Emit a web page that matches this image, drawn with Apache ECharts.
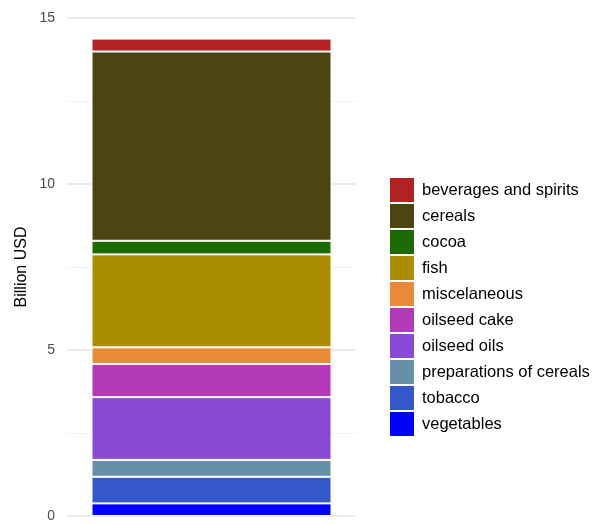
<!DOCTYPE html>
<html><head><meta charset="utf-8">
<script src="https://cdn.jsdelivr.net/npm/echarts@6/dist/echarts.min.js"></script>
<style>html,body{margin:0;padding:0;background:#fff}#c{width:597px;height:524px}</style>
</head><body><div id="c"></div>
<script>
// Legend order (top to bottom)
const categories = ["beverages and spirits","cereals","cocoa","fish","miscelaneous","oilseed cake","oilseed oils","preparations of cereals","tobacco","vegetables"];
const values = [0.39, 5.70, 0.41, 2.80, 0.50, 1.00, 1.89, 0.51, 0.80, 0.38];
const colors = ["#B22222","#4D4511","#1B6B00","#AA8E00","#E88A37","#B23AB8","#8849D4","#668FA8","#3458C8","#0000FF"];
const xCats = [""];

const chart = echarts.init(document.getElementById('c'));
const series = [];
for (let i = categories.length - 1; i >= 0; i--) {
  series.push({
    name: categories[i], type: 'bar', stack: 'total', barWidth: 240,
    data: [values[i]],
    itemStyle: { color: colors[i], borderColor: '#ffffff', borderWidth: 1 },
    emphasis: { disabled: true }
  });
}
chart.setOption({
  animation: false,
  grid: { left: 67, right: 241, top: 18, bottom: 8, containLabel: false },
  xAxis: { type: 'category', data: xCats, axisLine: { show: false }, axisTick: { show: false }, axisLabel: { show: false } },
  yAxis: {
    type: 'value', min: 0, max: 15, interval: 5,
    name: 'Billion USD', nameLocation: 'middle', nameGap: 37,
    nameTextStyle: { fontFamily: 'Liberation Sans, Arial, sans-serif', fontSize: 16, color: '#000' },
    axisLine: { show: false }, axisTick: { show: false },
    axisLabel: { fontFamily: 'Liberation Sans, Arial, sans-serif', fontSize: 14, color: '#4d4d4d', margin: 12 },
    splitLine: { lineStyle: { color: '#ebebeb', width: 2 } },
    minorTick: { show: false, splitNumber: 2 },
    minorSplitLine: { show: true, lineStyle: { color: '#f2f2f2', width: 1 } }
  },
  legend: {
    orient: 'vertical', left: 390, top: 178, padding: 0,
    data: categories, itemWidth: 24, itemHeight: 24, itemGap: 2,
    icon: 'rect', selectedMode: false,
    itemStyle: { borderWidth: 0 },
    textStyle: { fontFamily: 'Liberation Sans, Arial, sans-serif', fontSize: 16.5, lineHeight: 20, color: '#000', padding: [0,0,0,3] }
  },
  series: series
});
</script></body></html>
